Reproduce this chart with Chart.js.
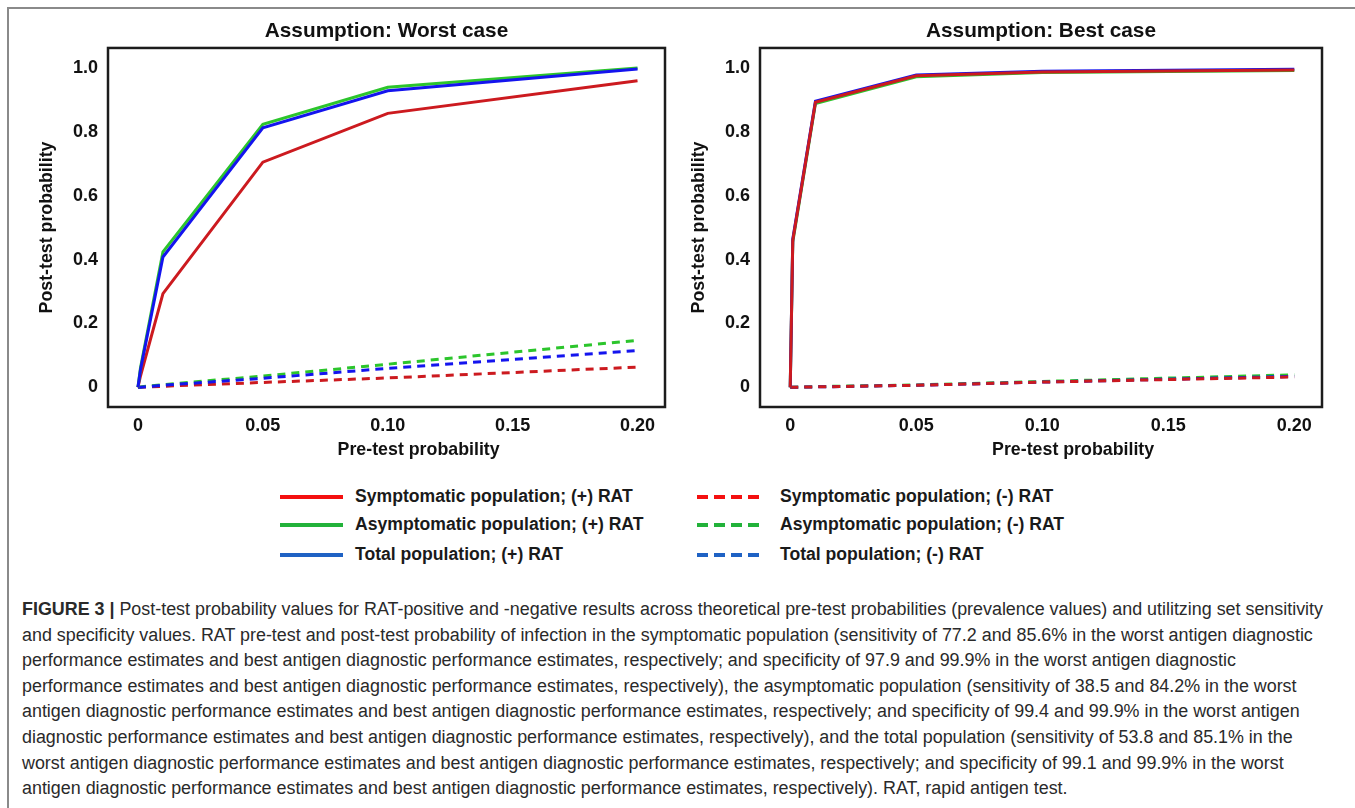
<!DOCTYPE html>
<html>
<head>
<meta charset="utf-8">
<script src="https://cdn.jsdelivr.net/npm/chart.js@4.4.1/dist/chart.umd.min.js"></script>
<style>
  body { margin: 0; width: 1355px; height: 808px; background: #fff; position: relative; overflow: hidden;
         font-family: "Liberation Sans", Arial, sans-serif; }
  #frame { position: absolute; left: 7px; top: 7px; width: 1400px; height: 900px;
           border-left: 2px solid #8a8a8a; border-top: 2px solid #8a8a8a; }
  .plot { position: absolute; top: 10px; height: 470px; }
  #legend { position: absolute; left: 0; top: 0; }
  .item { position: absolute; font-weight: bold; font-size: 17.6px; color: #1a1a1a; white-space: nowrap; }
  .swatch { position: absolute; height: 4px; }
  #caption { position: absolute; left: 22px; top: 597px; transform-origin: 0 0;
             font-family: "Liberation Sans Narrow", "Arial Narrow", "Liberation Sans", sans-serif;
             font-size: 18px; color: #2a2a2a; }
  #caption div { height: 25.6px; line-height: 25.6px; white-space: nowrap; }
</style>
</head>
<body>
<div id="frame"></div>
<div class="plot" style="left:20px;width:660px"><canvas id="worst" width="660" height="470"></canvas></div>
<div class="plot" style="left:672px;width:670px"><canvas id="best" width="670" height="470"></canvas></div>
<div id="legend"></div>
<div id="caption">
  <div><b>FIGURE 3 |</b> Post-test probability values for RAT-positive and -negative results across theoretical pre-test probabilities (prevalence values) and utilitzing set sensitivity</div>
  <div>and specificity values. RAT pre-test and post-test probability of infection in the symptomatic population (sensitivity of 77.2 and 85.6% in the worst antigen diagnostic</div>
  <div>performance estimates and best antigen diagnostic performance estimates, respectively; and specificity of 97.9 and 99.9% in the worst antigen diagnostic</div>
  <div>performance estimates and best antigen diagnostic performance estimates, respectively), the asymptomatic population (sensitivity of 38.5 and 84.2% in the worst</div>
  <div>antigen diagnostic performance estimates and best antigen diagnostic performance estimates, respectively; and specificity of 99.4 and 99.9% in the worst antigen</div>
  <div>diagnostic performance estimates and best antigen diagnostic performance estimates, respectively), and the total population (sensitivity of 53.8 and 85.1% in the</div>
  <div>worst antigen diagnostic performance estimates and best antigen diagnostic performance estimates, respectively; and specificity of 99.1 and 99.9% in the worst</div>
  <div>antigen diagnostic performance estimates and best antigen diagnostic performance estimates, respectively). RAT, rapid antigen test.</div>
</div>
<script>
// pre-test probability (x)
var preTest = [0, 0.001, 0.01, 0.05, 0.10, 0.20];

// worst case post-test probability
var worstSymPos   = [0, 0.035, 0.293, 0.705, 0.858, 0.960];
var worstAsymPos  = [0, 0.060, 0.424, 0.824, 0.940, 1.000];
var worstTotalPos = [0, 0.055, 0.408, 0.813, 0.929, 0.997];
var worstSymNeg   = [0, 0.000, 0.003, 0.015, 0.029, 0.063];
var worstAsymNeg  = [0, 0.001, 0.008, 0.035, 0.072, 0.147];
var worstTotalNeg = [0, 0.000, 0.006, 0.028, 0.059, 0.115];

// best case post-test probability
var bestSymPos   = [0, 0.460, 0.893, 0.976, 0.988, 0.994];
var bestAsymPos  = [0, 0.455, 0.889, 0.973, 0.986, 0.992];
var bestTotalPos = [0, 0.464, 0.896, 0.978, 0.990, 0.996];
var bestSymNeg   = [0, 0.000, 0.001, 0.006, 0.016, 0.032];
var bestAsymNeg  = [0, 0.000, 0.002, 0.007, 0.018, 0.039];
var bestTotalNeg = [0, 0.000, 0.001, 0.006, 0.016, 0.034];

var xTicks = [0, 0.05, 0.10, 0.15, 0.20];
var yTicks = [0, 0.2, 0.4, 0.6, 0.8, 1.0];

var seriesNames = ["Symptomatic population; (+) RAT", "Asymptomatic population; (+) RAT", "Total population; (+) RAT",
                   "Symptomatic population; (-) RAT", "Asymptomatic population; (-) RAT", "Total population; (-) RAT"];

var lineRed = "#cc1a1f", lineGreen = "#2cc52c", lineBlue = "#1414ee";
var keyRed = "#f41010", keyGreen = "#22b23a", keyBlue = "#1f62c4";

function pts(ys) {
	return ys.map(function (y, i) { return { x: preTest[i], y: y }; });
}

function ds(name, ys, color, dashed, order) {
	return {
		label: name,
		data: pts(ys),
		borderColor: color,
		borderWidth: 3,
		borderDash: dashed ? [8, 6] : [],
		pointRadius: 0,
		tension: 0,
		fill: false,
		order: order
	};
}

// black box round the plot area
var boxPlugin = {
	id: "box",
	beforeDatasetsDraw: function (chart) {
		var a = chart.chartArea, c = chart.ctx;
		c.save();
		c.strokeStyle = "#1c1c1c";
		c.lineWidth = 2.5;
		c.strokeRect(a.left, a.top, a.right - a.left, a.bottom - a.top);
		c.restore();
	}
};

function makeChart(id, title, datasets, padRight) {
	var tickFont = { family: "Liberation Sans", size: 18, weight: "bold" };
	var titleFont = { family: "Liberation Sans", size: 17.8, weight: "bold" };
	return new Chart(document.getElementById(id), {
		type: "line",
		data: { datasets: datasets },
		plugins: [boxPlugin],
		options: {
			responsive: false,
			animation: false,
			layout: { padding: { left: 0, right: padRight, top: 0, bottom: 0 } },
			plugins: {
				legend: { display: false },
				tooltip: { enabled: false },
				title: {
					display: true,
					text: title,
					fullSize: false,
					color: "#111",
					font: { family: "Liberation Sans", size: 20.8, weight: "bold" },
					padding: { top: 9, bottom: 4 }
				}
			},
			scales: {
				x: {
					type: "linear",
					min: -0.012,
					max: 0.211,
					grid: { display: false, drawTicks: false },
					border: { display: false },
					afterBuildTicks: function (s) { s.ticks = xTicks.map(function (v) { return { value: v }; }); },
					afterFit: function (s) { s.height = 73; },
					ticks: {
						font: tickFont, color: "#111", padding: 8, maxRotation: 0,
						callback: function (v) { return v === 0 ? "0" : v.toFixed(2); }
					},
					// leading spaces push the label a little right of centre, as in the figure
					title: { display: true, text: "             Pre-test probability", color: "#111", font: titleFont, padding: { top: 0, bottom: 19 } }
				},
				y: {
					type: "linear",
					min: -0.062,
					max: 1.063,
					grid: { display: false, drawTicks: false },
					border: { display: false },
					afterBuildTicks: function (s) { s.ticks = yTicks.map(function (v) { return { value: v }; }); },
					afterFit: function (s) { s.width = 88; },
					ticks: {
						font: tickFont, color: "#111", padding: 10,
						callback: function (v) { return v === 0 ? "0" : v.toFixed(1); }
					},
					title: { display: true, text: "Post-test probability", color: "#111", font: titleFont, padding: { top: 16, bottom: 0 } }
				}
			}
		}
	});
}

makeChart("worst", "Assumption: Worst case", [
	ds(seriesNames[0], worstSymPos, lineRed, false, 2),
	ds(seriesNames[1], worstAsymPos, lineGreen, false, 1),
	ds(seriesNames[2], worstTotalPos, lineBlue, false, 0),
	ds(seriesNames[3], worstSymNeg, lineRed, true, 5),
	ds(seriesNames[4], worstAsymNeg, lineGreen, true, 4),
	ds(seriesNames[5], worstTotalNeg, lineBlue, true, 3)
], 15);

makeChart("best", "Assumption: Best case", [
	ds(seriesNames[0], bestSymPos, lineRed, false, 0),
	ds(seriesNames[1], bestAsymPos, lineGreen, false, 2),
	ds(seriesNames[2], bestTotalPos, lineBlue, false, 1),
	ds(seriesNames[3], bestSymNeg, lineRed, true, 3),
	ds(seriesNames[4], bestAsymNeg, lineGreen, true, 5),
	ds(seriesNames[5], bestTotalNeg, lineBlue, true, 4)
], 20);

// shared legend under both plots
var legend = document.getElementById("legend");
var keyColors = [keyRed, keyGreen, keyBlue];
var rowsY = [497, 525, 555];
seriesNames.forEach(function (name, i) {
	var col = i < 3 ? 0 : 1, row = i % 3;
	var sw = document.createElement("div");
	sw.className = "swatch";
	var lineX = col === 0 ? 280 : 697, textX = col === 0 ? 355 : 780;
	sw.style.left = lineX + "px";
	sw.style.width = (col === 0 ? 63 : 66) + "px";
	sw.style.top = (rowsY[row] - 2) + "px";
	if (col === 0) {
		sw.style.background = keyColors[row];
	} else {
		sw.style.background = "repeating-linear-gradient(90deg, " + keyColors[row] + " 0 11px, transparent 11px 17px)";
	}
	legend.appendChild(sw);
	var t = document.createElement("div");
	t.className = "item";
	t.textContent = name;
	t.style.left = textX + "px";
	t.style.top = (rowsY[row] - 11) + "px";
	legend.appendChild(t);
});

// squeeze the caption so its first line spans the same width as the figure
var cap = document.getElementById("caption");
var range = document.createRange();
range.selectNodeContents(cap.firstElementChild);
var lw = range.getBoundingClientRect().width;
if (lw > 0) cap.style.transform = "scaleX(" + (1301 / lw) + ")";
</script>
</body>
</html>
